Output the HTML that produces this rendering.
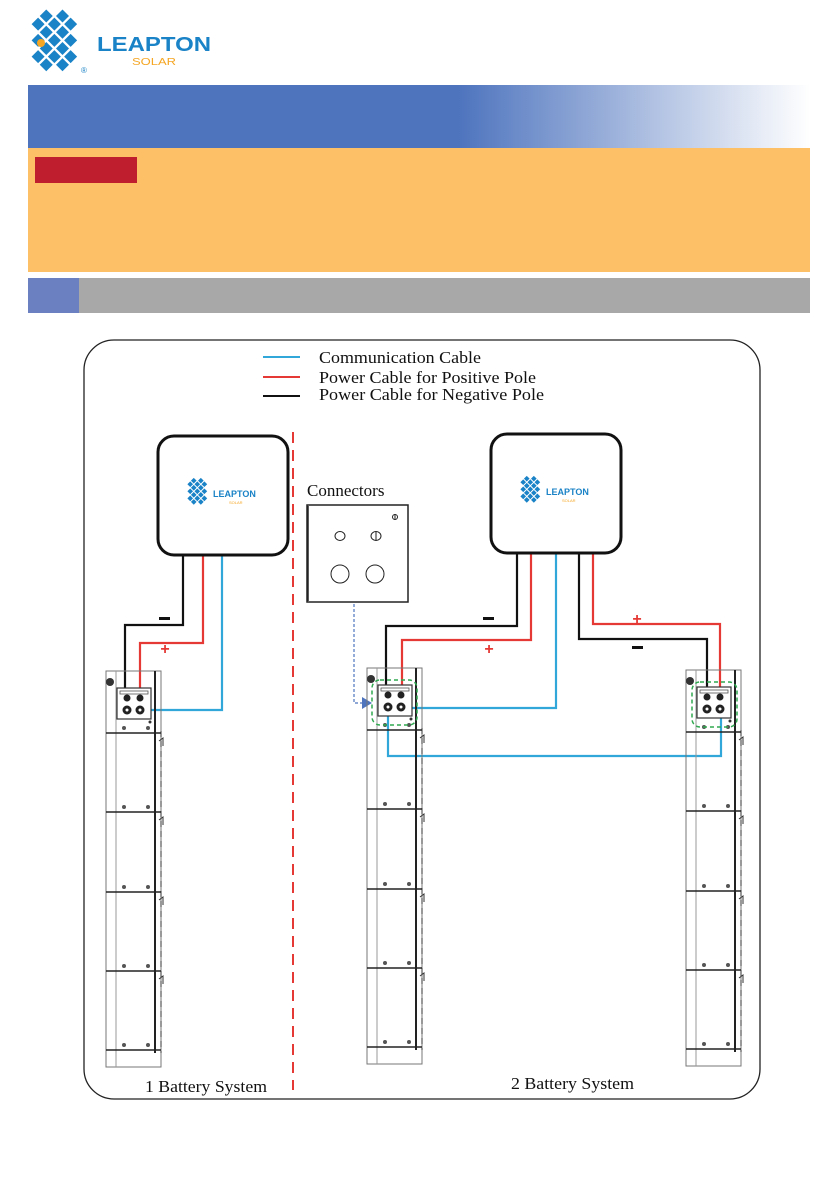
<!DOCTYPE html>
<html><head><meta charset="utf-8"><style>
html,body{margin:0;padding:0;background:#fff}
svg{display:block}
</style></head><body>
<svg width="839" height="1191" viewBox="0 0 839 1191" xmlns="http://www.w3.org/2000/svg" font-family="Liberation Serif, serif">
<defs>
<linearGradient id="bg" x1="0" x2="1" y1="0" y2="0">
<stop offset="0" stop-color="#4e74be"/><stop offset="0.55" stop-color="#4e74be"/><stop offset="1" stop-color="#ffffff"/>
</linearGradient>
<g id="lg">
<rect x="-24" y="-6" width="8" height="8"/><rect x="-14" y="-6" width="8" height="8"/><rect x="-4" y="-6" width="8" height="8"/><rect x="6" y="-6" width="8" height="8"/><rect x="16" y="-6" width="8" height="8"/>
<rect x="-24" y="4" width="8" height="8"/><rect x="-14" y="4" width="8" height="8"/><rect x="-4" y="4" width="8" height="8"/><rect x="6" y="4" width="8" height="8"/>
<rect x="-14" y="-16" width="8" height="8"/><rect x="-4" y="-16" width="8" height="8"/><rect x="6" y="-16" width="8" height="8"/><rect x="16" y="-16" width="8" height="8"/>
<rect x="-4" y="-26" width="8" height="8"/><rect x="6" y="-26" width="8" height="8"/>
<rect x="-14" y="14" width="8" height="8"/><rect x="-4" y="14" width="8" height="8"/>
</g>
<g id="bat">
<rect x="0" y="0" width="55" height="396" fill="none" stroke="#777" stroke-width="1"/>
<line x1="10" y1="0" x2="10" y2="396" stroke="#999" stroke-width="1"/>
<line x1="49" y1="0" x2="49" y2="382" stroke="#222" stroke-width="2"/>
<line x1="55" y1="60" x2="55" y2="382" stroke="#333" stroke-width="1" stroke-dasharray="6,4"/>
<g stroke="#222" stroke-width="1.5">
<line x1="0" y1="62" x2="55" y2="62"/><line x1="0" y1="141" x2="55" y2="141"/><line x1="0" y1="221" x2="55" y2="221"/><line x1="0" y1="300" x2="55" y2="300"/><line x1="0" y1="379" x2="55" y2="379"/>
</g>
<g fill="#555">
<circle cx="18" cy="57" r="2"/><circle cx="42" cy="57" r="2"/>
<circle cx="18" cy="136" r="2"/><circle cx="42" cy="136" r="2"/>
<circle cx="18" cy="216" r="2"/><circle cx="42" cy="216" r="2"/>
<circle cx="18" cy="295" r="2"/><circle cx="42" cy="295" r="2"/>
<circle cx="18" cy="374" r="2"/><circle cx="42" cy="374" r="2"/>
</g>
<g fill="none" stroke="#333" stroke-width="1">
<path d="M53 70 l4 -3 v8 M53 149 l4 -3 v8 M53 229 l4 -3 v8 M53 308 l4 -3 v8"/>
</g>
<circle cx="4" cy="11" r="4" fill="#333"/>
<rect x="11" y="17" width="34" height="31" fill="#fff" stroke="#333" stroke-width="1.2"/>
<rect x="14" y="20" width="28" height="3" fill="none" stroke="#555" stroke-width="0.8"/>
<circle cx="21" cy="27" r="3.5" fill="#222"/><circle cx="34" cy="27" r="3.5" fill="#222"/>
<circle cx="21" cy="39" r="4.5" fill="#222"/><circle cx="34" cy="39" r="4.5" fill="#222"/>
<circle cx="21" cy="39" r="1.5" fill="#fff"/><circle cx="34" cy="39" r="1.5" fill="#fff"/>
<circle cx="44" cy="51" r="1.5" fill="#333"/>
</g>
</defs>

<g fill="#1a82c6" transform="translate(56,42) rotate(-45) scale(1.15)"><use href="#lg"/></g>
<circle cx="41" cy="43" r="4" fill="#f5a623"/>
<text x="97" y="51" font-family="Liberation Sans, sans-serif" font-weight="bold" font-size="20" fill="#1a82c6" textLength="114" lengthAdjust="spacingAndGlyphs">LEAPTON</text>
<text x="132" y="65" font-family="Liberation Sans, sans-serif" font-size="10" fill="#f5a623" textLength="44" lengthAdjust="spacingAndGlyphs">SOLAR</text>
<text x="81" y="73" font-family="Liberation Sans, sans-serif" font-size="8" fill="#1a82c6">®</text>

<rect x="28" y="85" width="782" height="63" fill="url(#bg)"/>
<rect x="28" y="148" width="782" height="124" fill="#fdc066"/>
<rect x="35" y="157" width="102" height="26" fill="#be1e2d"/>
<rect x="28" y="278" width="782" height="35" fill="#a8a8a8"/>
<rect x="28" y="278" width="51" height="35" fill="#6a80c0"/>

<rect x="84" y="340" width="676" height="759" rx="30" fill="none" stroke="#222" stroke-width="1.3"/>

<line x1="263" y1="357" x2="300" y2="357" stroke="#30a7d8" stroke-width="2"/>
<line x1="263" y1="377" x2="300" y2="377" stroke="#e53935" stroke-width="2"/>
<line x1="263" y1="396" x2="300" y2="396" stroke="#111" stroke-width="2"/>
<text x="319" y="363" font-size="17" fill="#111" textLength="162" lengthAdjust="spacingAndGlyphs">Communication Cable</text>
<text x="319" y="383" font-size="17" fill="#111" textLength="217" lengthAdjust="spacingAndGlyphs">Power Cable for Positive Pole</text>
<text x="319" y="400" font-size="17" fill="#111" textLength="225" lengthAdjust="spacingAndGlyphs">Power Cable for Negative Pole</text>

<line x1="293" y1="432" x2="293" y2="1090" stroke="#e53935" stroke-width="2" stroke-dasharray="11,7"/>

<g fill="none" stroke-width="2.2">
<path d="M183 556 V625 H125 V698" stroke="#111"/>
<path d="M203 556 V643 H140 V698" stroke="#e53935"/>
<path d="M222 556 V710 H140" stroke="#30a7d8"/>
</g>
<rect x="159" y="617" width="11" height="3" fill="#111"/>
<text x="165" y="654" font-family="Liberation Sans, sans-serif" font-weight="bold" font-size="16" fill="#e53935" text-anchor="middle">+</text>

<g fill="none" stroke-width="2.2">
<path d="M517 553 V626 H386 V695" stroke="#111"/>
<path d="M531 553 V640 H402 V695" stroke="#e53935"/>
<path d="M556 553 V708 H402" stroke="#30a7d8"/>
<path d="M579 553 V639 H707 V697" stroke="#111"/>
<path d="M593 553 V624 H720 V697" stroke="#e53935"/>
<path d="M388 708 V756 H721 V710" stroke="#30a7d8"/>
</g>
<rect x="483" y="617" width="11" height="3" fill="#111"/>
<text x="489" y="654" font-family="Liberation Sans, sans-serif" font-weight="bold" font-size="16" fill="#e53935" text-anchor="middle">+</text>
<text x="637" y="624" font-family="Liberation Sans, sans-serif" font-weight="bold" font-size="16" fill="#e53935" text-anchor="middle">+</text>
<rect x="632" y="646" width="11" height="3" fill="#111"/>

<rect x="158" y="436" width="130" height="119" rx="16" fill="#fff" stroke="#111" stroke-width="3"/>
<rect x="491" y="434" width="130" height="119" rx="16" fill="#fff" stroke="#111" stroke-width="3"/>
<g font-family="Liberation Sans, sans-serif">
<g fill="#1a82c6" transform="translate(198,492) rotate(-45) scale(0.5)"><use href="#lg"/></g>
<text x="213" y="497" font-weight="bold" font-size="9" fill="#1a82c6">LEAPTON</text>
<text x="229" y="504" font-size="4" fill="#f5a623">SOLAR</text>
<g fill="#1a82c6" transform="translate(531,490) rotate(-45) scale(0.5)"><use href="#lg"/></g>
<text x="546" y="495" font-weight="bold" font-size="9" fill="#1a82c6">LEAPTON</text>
<text x="562" y="502" font-size="4" fill="#f5a623">SOLAR</text>
</g>

<text x="307" y="496" font-size="17" fill="#111">Connectors</text>
<rect x="307" y="505" width="101" height="97" fill="#fff" stroke="#222" stroke-width="1.5"/>
<line x1="308" y1="506" x2="308" y2="601" stroke="#222" stroke-width="1.5"/>
<g fill="none" stroke="#222" stroke-width="1">
<ellipse cx="340" cy="536" rx="5" ry="4.5"/><ellipse cx="376" cy="536" rx="5" ry="4.5"/><line x1="376" y1="532" x2="376" y2="540"/>
<circle cx="395" cy="517" r="2.5"/><line x1="395" y1="514" x2="395" y2="520"/>
<circle cx="340" cy="574" r="9"/><circle cx="375" cy="574" r="9"/>
</g>
<path d="M354 604 V703 H365" fill="none" stroke="#4e74be" stroke-width="1.2" stroke-dasharray="3,2"/>
<path d="M362 697 L372 703 L362 709 Z" fill="#4e74be"/>

<use href="#bat" x="106" y="671"/>
<use href="#bat" x="367" y="668"/>
<use href="#bat" x="686" y="670"/>
<rect x="372" y="680" width="45" height="45" rx="8" fill="none" stroke="#2fa84f" stroke-width="1.5" stroke-dasharray="4,3"/>
<rect x="692" y="682" width="45" height="45" rx="8" fill="none" stroke="#2fa84f" stroke-width="1.5" stroke-dasharray="4,3"/>

<text x="145" y="1092" font-size="17" fill="#111" textLength="122" lengthAdjust="spacingAndGlyphs">1 Battery System</text>
<text x="511" y="1089" font-size="17" fill="#111" textLength="123" lengthAdjust="spacingAndGlyphs">2 Battery System</text>
</svg>
</body></html>
